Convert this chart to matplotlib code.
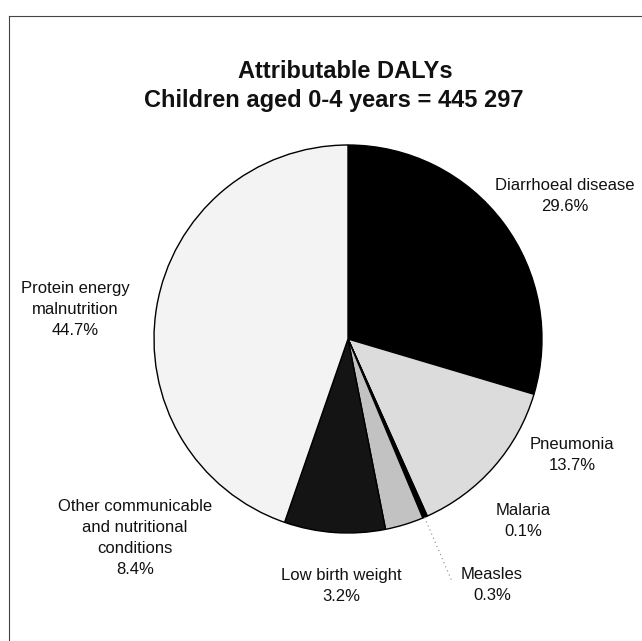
import matplotlib
matplotlib.use("Agg")
import matplotlib.pyplot as plt
import numpy as np

plt.rcParams['font.family'] = ['Liberation Sans', 'DejaVu Sans']

# ---- data ----
categories = ["Diarrhoeal disease", "Pneumonia", "Malaria", "Measles",
              "Low birth weight", "Other communicable\nand nutritional\nconditions",
              "Protein energy\nmalnutrition"]
shares = [29.6, 13.7, 0.1, 0.3, 3.2, 8.4, 44.7]
title_lines = ["Attributable DALYs", "Children aged 0-4 years = 445 297"]

colors = ["#000000", "#dcdcdc", "#000000", "#000000", "#c2c2c2", "#141414", "#f3f3f3"]

W, H = 642, 641
fig = plt.figure(figsize=(W / 100, H / 100), dpi=100)
ax = fig.add_axes([0, 0, 1, 1])

cx, cy, R = 348, H - 339, 194
wedges, _ = ax.pie(shares, colors=colors, startangle=90, counterclock=False,
                   center=(cx, cy), radius=R,
                   wedgeprops=dict(edgecolor="black", linewidth=1.0))
ax.set_xlim(0, W)
ax.set_ylim(0, H)
ax.set_aspect('auto')
ax.axis('off')

# label positions (pixel coords from top-left, top of text block)
label_pos = [(565, 178), (572, 437), (523, 503), (492, 567),
             (341, 568), (135, 499), (75, 281)]
for name, val, (x, y) in zip(categories, shares, label_pos):
    txt = f"{name}\n{val:.1f}%"
    ax.text(x, H - y, txt, ha="center", va="top", fontsize=12,
            linespacing=1.5, color="#111111")

# dotted leader line for Measles wedge (radial along its mid-angle)
mw = wedges[3]
mid = np.deg2rad((mw.theta1 + mw.theta2) / 2)
r0, r1 = 1.0 * R, 1.36 * R
ax.plot([cx + r0 * np.cos(mid), cx + r1 * np.cos(mid)],
        [cy + r0 * np.sin(mid), cy + r1 * np.sin(mid)],
        linestyle=(0, (1, 3)), color="#888888", linewidth=0.8)

# title
ax.text(345, H - 71, title_lines[0], ha="center", va="center",
        fontsize=17, fontweight="bold", color="#111111")
ax.text(334, H - 100, title_lines[1], ha="center", va="center",
        fontsize=17, fontweight="bold", color="#111111")

# page frame (top and left)
ax.plot([9, W], [H - 16, H - 16], color="#444444", linewidth=0.8)
ax.plot([9, 9], [H - 16, 0], color="#444444", linewidth=0.8)

fig.savefig("out.png", dpi=100)
